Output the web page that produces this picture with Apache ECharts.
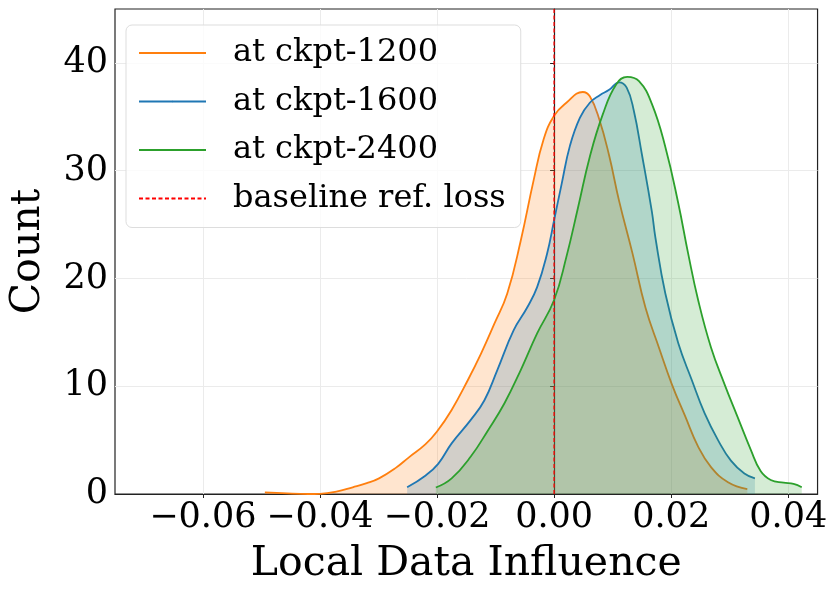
<!DOCTYPE html>
<html>
<head>
<meta charset="utf-8">
<title>Local Data Influence</title>
<script src="https://cdn.jsdelivr.net/npm/echarts@6.0.0/dist/echarts.min.js"></script>
<style>
    html, body { margin: 0; padding: 0; background: #fff; }
    #chart { width: 830px; height: 593px; }
</style>
</head>
<body>
<div id="chart"></div>
<script>
"use strict";

/** 各checkpoint的密度曲线 (x: local data influence, y: count) */
var ckpt1200X = [-0.0494, -0.0456, -0.0420, -0.0400, -0.0372, -0.0344, -0.0320, -0.0299, -0.0271, -0.0248,
    -0.0220, -0.0200, -0.0175, -0.0147, -0.0125, -0.0102, -0.0080, -0.0057, -0.0035, -0.0018,
    0.0000, 0.0021, 0.0049, 0.0061, 0.0077, 0.0094, 0.0111, 0.0134, 0.0156, 0.0179,
    0.0201, 0.0224, 0.0246, 0.0268, 0.0297, 0.0330];
var ckpt1200Y = [0.15, 0.05, 0.0, 0.02, 0.22, 0.62, 1.0, 1.45, 2.4, 3.4,
    4.6, 5.8, 7.8, 10.6, 13.0, 15.8, 18.6, 23.5, 29.1, 32.9,
    35.1, 36.3, 37.3, 36.9, 34.8, 31.4, 27.2, 22.3, 17.3, 13.6,
    10.2, 7.2, 4.4, 2.5, 1.1, 0.45];

var ckpt1600X = [-0.0251, -0.0220, -0.0198, -0.0175, -0.0142, -0.0119, -0.0097, -0.0069, -0.0046, -0.0029,
    -0.0012, 0.0000, 0.0013, 0.0027, 0.0044, 0.0061, 0.0078, 0.0094, 0.0111, 0.0124,
    0.0136, 0.0150, 0.0167, 0.0173, 0.0190, 0.0212, 0.0235, 0.0257, 0.0280, 0.0302,
    0.0325, 0.0343];
var ckpt1600Y = [0.62, 1.7, 2.8, 4.7, 6.9, 8.7, 11.5, 15.2, 17.3, 19.2,
    22.3, 25.4, 28.8, 32.3, 34.9, 36.3, 37.0, 37.5, 38.2, 37.7,
    35.6, 31.5, 26.2, 23.8, 18.6, 14.0, 10.6, 7.5, 5.0, 3.1,
    1.9, 1.45];

var ckpt2400X = [-0.0202, -0.0175, -0.0142, -0.0113, -0.0085, -0.0057, -0.0029, 0.0000, 0.0021, 0.0041,
    0.0061, 0.0083, 0.0106, 0.0125, 0.0145, 0.0167, 0.0190, 0.0212, 0.0229, 0.0246,
    0.0268, 0.0291, 0.0313, 0.0336, 0.0353, 0.0370, 0.0392, 0.0409, 0.0423];
var ckpt2400Y = [0.6, 1.45, 3.5, 5.9, 8.4, 11.5, 14.9, 18.0, 22.0, 26.6,
    31.3, 35.2, 38.0, 38.7, 38.3, 36.2, 32.2, 27.0, 22.3, 18.0,
    13.6, 10.2, 7.2, 4.1, 2.1, 1.3, 1.05, 0.93, 0.62];

/** 基线 */
var baselineX = 0;

/** 坐标轴刻度 */
var xTicks = [-0.06, -0.04, -0.02, 0.00, 0.02, 0.04];
var yTicks = [0, 10, 20, 30, 40];

var seriesNames = ['at ckpt-1200', 'at ckpt-1600', 'at ckpt-2400'];
var baselineName = 'baseline ref. loss';

(function (win) {

    var FONT = 'DejaVu Serif';
    var COLORS = ['#ff7f0e', '#1f77b4', '#2ca02c'];

    /**
     * 密度分布图
     * @param {Dom} dom         chart的容器
     * @param {Array} curves    [{name, xs, ys}, ...]
     */
    var KdeChart = function (dom, curves) {
        this.init(dom);
        this.reflashChart(curves);
    };
    var p = KdeChart.prototype;
    p.chart = null;
    p.chartOptions = null;

    p.init = function (dom) {
        this.chart = echarts.init(dom, null, {renderer: 'canvas'});
        this.chartOptions = {
            animation: false,
            backgroundColor: '#fff',
            textStyle: {fontFamily: FONT},
            grid: {
                left: 109, right: 6, top: 9, bottom: 99,
                show: true, borderColor: '#222', borderWidth: 1.2
            },
            legend: {
                left: 126, top: 25,
                orient: 'vertical',
                // itemHeight很小, 图例里只剩线段
                itemWidth: 67, itemHeight: 2,
                itemGap: 8.5,
                padding: [8, 15, 9, 12],
                backgroundColor: 'rgba(255,255,255,0.8)',
                borderColor: '#dddddd', borderWidth: 1, borderRadius: 6,
                textStyle: {
                    fontFamily: FONT, fontSize: 32, color: '#000',
                    lineHeight: 40, padding: [0, 0, 0, 22]
                },
                data: []
            },
            xAxis: {
                type: 'value',
                min: -0.075, max: 0.045,
                splitNumber: 6,
                name: 'Local Data Influence',
                nameLocation: 'middle', nameGap: 50,
                nameTextStyle: {fontFamily: FONT, fontSize: 41, color: '#000'},
                axisLine: {onZero: false, lineStyle: {color: '#222', width: 1.2}},
                axisTick: {show: true, length: 4, customValues: xTicks, lineStyle: {color: '#222'}},
                axisLabel: {
                    customValues: xTicks,
                    fontFamily: FONT, fontSize: 35, color: '#000', margin: 6,
                    formatter: function (v) {
                        return (v < -1e-9 ? '\u2212' : '') + Math.abs(v).toFixed(2);
                    }
                },
                splitLine: {show: true, lineStyle: {color: '#ebebeb', width: 1}}
            },
            yAxis: {
                type: 'value',
                min: 0, max: 45, interval: 10,
                name: 'Count',
                nameLocation: 'middle', nameGap: 66,
                nameTextStyle: {fontFamily: FONT, fontSize: 41, color: '#000'},
                axisLine: {show: true, lineStyle: {color: '#222', width: 1.2}},
                axisTick: {show: true, length: 4, customValues: yTicks, lineStyle: {color: '#222'}},
                axisLabel: {
                    customValues: yTicks,
                    fontFamily: FONT, fontSize: 35, color: '#000', margin: 7
                },
                splitLine: {show: true, lineStyle: {color: '#ebebeb', width: 1}}
            },
            series: []
        };
    };

    /**
     * 刷新图表
     * @param {Array} curves
     */
    p.reflashChart = function (curves) {
        var series = [];
        var names = [];
        for (var i = 0, len = curves.length; i < len; i++) {
            var pts = [];
            for (var j = 0; j < curves[i].xs.length; j++) {
                pts.push([curves[i].xs[j], curves[i].ys[j]]);
            }
            names.push(curves[i].name);
            series.push({
                name: curves[i].name,
                type: 'line',
                smooth: 0.45,
                showSymbol: false,
                symbol: 'none',
                color: COLORS[i],
                lineStyle: {color: COLORS[i], width: 1.8},
                areaStyle: {color: COLORS[i], opacity: 0.2},
                z: 2 + i,
                data: pts
            });
        }
        // 红色虚线基线
        names.push(baselineName);
        series.push({
            name: baselineName,
            type: 'line',
            symbol: 'none',
            color: '#ff0000',
            lineStyle: {color: '#ff0000', width: 1.3, type: [4, 2.5]},
            z: 10,
            data: [[baselineX, 0], [baselineX, 45]]
        });
        this.chartOptions.legend.data = names;
        this.chartOptions.series = series;
        this.chart.setOption(this.chartOptions, true);
    };

    win.KdeChart = KdeChart;
})(window);

new KdeChart(document.getElementById('chart'), [
    {name: seriesNames[0], xs: ckpt1200X, ys: ckpt1200Y},
    {name: seriesNames[1], xs: ckpt1600X, ys: ckpt1600Y},
    {name: seriesNames[2], xs: ckpt2400X, ys: ckpt2400Y}
]);
</script>
</body>
</html>
